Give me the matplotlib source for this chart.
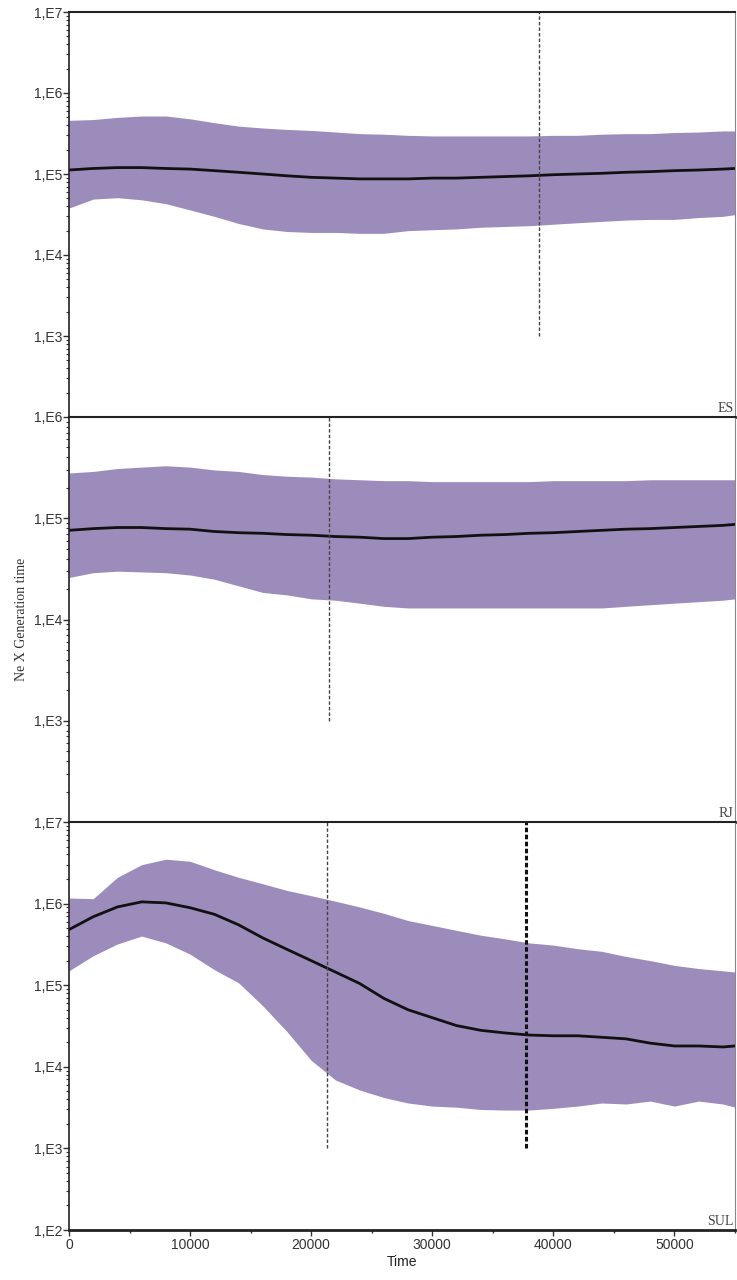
import numpy as np
import matplotlib
matplotlib.use("Agg")
import matplotlib.pyplot as plt
from matplotlib.ticker import FixedLocator, FuncFormatter, LogLocator, MultipleLocator

# time grid shared by the three skyline plots
time = [0, 2000, 4000, 6000, 8000, 10000, 12000, 14000, 16000, 18000, 20000,
        22000, 24000, 26000, 28000, 30000, 32000, 34000, 36000, 38000, 40000,
        42000, 44000, 46000, 48000, 50000, 52000, 54000, 55000]

# ES
es_mean = [1.12e5, 1.17e5, 1.20e5, 1.20e5, 1.17e5, 1.15e5, 1.10e5, 1.05e5, 1.00e5,
           9.5e4, 9.1e4, 8.9e4, 8.7e4, 8.7e4, 8.7e4, 8.9e4, 8.9e4, 9.1e4, 9.3e4,
           9.5e4, 9.8e4, 1.00e5, 1.02e5, 1.05e5, 1.07e5, 1.10e5, 1.12e5, 1.15e5, 1.17e5]
es_upper = [4.6e5, 4.7e5, 5.0e5, 5.2e5, 5.2e5, 4.8e5, 4.3e5, 3.9e5, 3.7e5,
            3.55e5, 3.45e5, 3.3e5, 3.15e5, 3.1e5, 3.0e5, 2.95e5, 2.95e5, 2.95e5, 2.95e5,
            2.95e5, 3.0e5, 3.0e5, 3.1e5, 3.15e5, 3.15e5, 3.25e5, 3.3e5, 3.4e5, 3.4e5]
es_lower = [3.8e4, 4.9e4, 5.1e4, 4.8e4, 4.3e4, 3.6e4, 3.0e4, 2.45e4, 2.1e4,
            1.95e4, 1.9e4, 1.9e4, 1.85e4, 1.85e4, 2.0e4, 2.05e4, 2.1e4, 2.2e4, 2.25e4,
            2.3e4, 2.4e4, 2.5e4, 2.6e4, 2.7e4, 2.75e4, 2.75e4, 2.9e4, 3.0e4, 3.15e4]

# RJ
rj_mean = [7.6e4, 7.9e4, 8.1e4, 8.1e4, 7.9e4, 7.8e4, 7.4e4, 7.2e4, 7.1e4,
           6.9e4, 6.8e4, 6.6e4, 6.5e4, 6.3e4, 6.3e4, 6.5e4, 6.6e4, 6.8e4, 6.9e4,
           7.1e4, 7.2e4, 7.4e4, 7.6e4, 7.8e4, 7.9e4, 8.1e4, 8.3e4, 8.5e4, 8.7e4]
rj_upper = [2.8e5, 2.9e5, 3.1e5, 3.2e5, 3.3e5, 3.2e5, 3.0e5, 2.9e5, 2.7e5,
            2.6e5, 2.55e5, 2.45e5, 2.4e5, 2.35e5, 2.35e5, 2.3e5, 2.3e5, 2.3e5, 2.3e5,
            2.3e5, 2.35e5, 2.35e5, 2.35e5, 2.35e5, 2.4e5, 2.4e5, 2.4e5, 2.4e5, 2.4e5]
rj_lower = [2.6e4, 2.9e4, 3.0e4, 2.95e4, 2.9e4, 2.75e4, 2.5e4, 2.15e4, 1.85e4,
            1.75e4, 1.6e4, 1.55e4, 1.45e4, 1.35e4, 1.3e4, 1.3e4, 1.3e4, 1.3e4, 1.3e4,
            1.3e4, 1.3e4, 1.3e4, 1.3e4, 1.35e4, 1.4e4, 1.45e4, 1.5e4, 1.55e4, 1.6e4]

# SUL
sul_mean = [4.8e5, 6.9e5, 9.1e5, 1.05e6, 1.02e6, 8.9e5, 7.4e5, 5.5e5, 3.8e5,
            2.75e5, 2.0e5, 1.45e5, 1.05e5, 6.9e4, 5.0e4, 4.0e4, 3.2e4, 2.8e4, 2.6e4,
            2.45e4, 2.4e4, 2.4e4, 2.3e4, 2.2e4, 1.95e4, 1.8e4, 1.8e4, 1.75e4, 1.8e4]
sul_upper = [1.17e6, 1.15e6, 2.1e6, 3.0e6, 3.5e6, 3.3e6, 2.6e6, 2.1e6, 1.75e6,
             1.45e6, 1.25e6, 1.07e6, 9.1e5, 7.6e5, 6.2e5, 5.4e5, 4.7e5, 4.1e5, 3.7e5,
             3.3e5, 3.1e5, 2.8e5, 2.6e5, 2.25e5, 2.0e5, 1.75e5, 1.6e5, 1.5e5, 1.45e5]
sul_lower = [1.5e5, 2.3e5, 3.2e5, 4.0e5, 3.3e5, 2.4e5, 1.55e5, 1.07e5, 5.6e4,
             2.7e4, 1.2e4, 6.9e3, 5.2e3, 4.2e3, 3.6e3, 3.3e3, 3.2e3, 3.0e3, 2.95e3,
             2.95e3, 3.1e3, 3.3e3, 3.6e3, 3.5e3, 3.8e3, 3.3e3, 3.8e3, 3.5e3, 3.2e3]

panels = ["ES", "RJ", "SUL"]
ylims = [(1e2, 1e7), (1e2, 1e6), (1e2, 1e7)]
yticks = [[1e3, 1e4, 1e5, 1e6, 1e7], [1e3, 1e4, 1e5, 1e6], [1e2, 1e3, 1e4, 1e5, 1e6, 1e7]]
# dashed markers: (time, thick?)
vlines = [[(38800, False)], [(21500, False)], [(21300, False), (37700, True)]]
xticks = [0, 10000, 20000, 30000, 40000, 50000]

series = [(es_mean, es_upper, es_lower),
          (rj_mean, rj_upper, rj_lower),
          (sul_mean, sul_upper, sul_lower)]

fill_color = '#9b8cbc'
fig = plt.figure(figsize=(7.37, 12.8), dpi=100)
fig.patch.set_facecolor('white')

left, right = 69 / 737, 735 / 737
edges = [12, 417, 822, 1230]

for i, name in enumerate(panels):
    top = 1 - edges[i] / 1280
    bot = 1 - edges[i + 1] / 1280
    ax = fig.add_axes([left, bot, right - left, top - bot])
    mean, upper, lower = series[i]
    ax.fill_between(time, lower, upper, color=fill_color, lw=0)
    ax.plot(time, mean, color='#111111', lw=2)
    for t, thick in vlines[i]:
        ax.plot([t, t], [1e3, ylims[i][1]], color='#111111' if thick else '#444444',
                lw=2.2 if thick else 1.0, ls=(0, (1.5, 0.8)) if thick else (0, (2.5, 1.5)))
    ax.set_yscale('log')
    ax.set_ylim(*ylims[i])
    ax.set_xlim(0, 55000)
    ax.yaxis.set_major_locator(FixedLocator(yticks[i]))
    ax.yaxis.set_major_formatter(FuncFormatter(lambda v, p: "1,E%d" % round(np.log10(v))))
    ax.yaxis.set_minor_locator(LogLocator(base=10, subs=np.arange(2, 10), numticks=20))
    ax.tick_params(axis='y', which='major', length=4, width=1, labelsize=10, pad=1, colors='#333333')
    ax.tick_params(axis='y', which='minor', length=2, width=0.8, colors='#333333')
    for lab in ax.get_yticklabels():
        lab.set_fontfamily('Liberation Sans')
    ax.spines['left'].set_color('#222222')
    ax.spines['left'].set_linewidth(1.2)
    ax.spines['bottom'].set_color('#222222')
    ax.spines['bottom'].set_linewidth(2)
    ax.spines['top'].set_color('#222222')
    ax.spines['top'].set_linewidth(1.5)
    ax.spines['right'].set_color('#888888')
    ax.spines['right'].set_linewidth(0.8)
    ax.text(0.998, 0.004, name, transform=ax.transAxes, ha='right', va='bottom',
            fontsize=10, family='Liberation Serif', color='#444444')
    if i < 2:
        ax.tick_params(axis='x', which='both', bottom=False, labelbottom=False)
    else:
        ax.xaxis.set_major_locator(FixedLocator(xticks))
        ax.xaxis.set_minor_locator(MultipleLocator(5000))
        ax.tick_params(axis='x', which='major', length=4, width=1, labelsize=10, pad=2, colors='#333333')
        ax.tick_params(axis='x', which='minor', length=2, width=1, colors='#333333')
        for lab in ax.get_xticklabels():
            lab.set_fontfamily('Liberation Sans')
        ax.set_xlabel('Time', fontsize=10, family='Liberation Sans', color='#222222', labelpad=2)
    if i == 1:
        ax.set_ylabel('Ne X Generation time', fontsize=10, family='Liberation Serif',
                      color='#333333')
        ax.yaxis.set_label_coords(-0.062, 0.5)

fig.savefig('out.png', dpi=100)
